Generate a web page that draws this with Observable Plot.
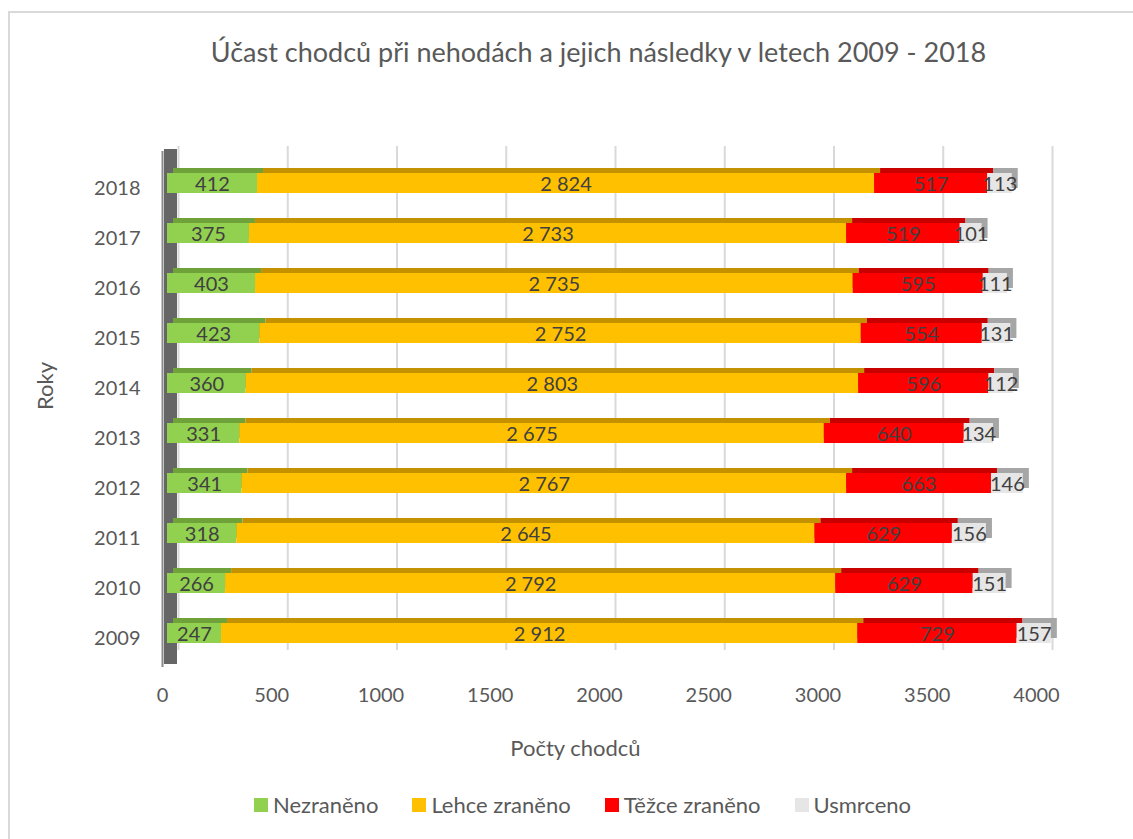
<!DOCTYPE html>
<html><head><meta charset="utf-8">
<script src="https://cdn.jsdelivr.net/npm/d3@7"></script>
<script src="https://cdn.jsdelivr.net/npm/@observablehq/plot@0.6"></script>
<style>
body{margin:0;background:#fff;font-family:Lato,"Open Sans",sans-serif;}
#wrap{position:relative;width:1133px;height:839px;overflow:hidden;background:#fff}
#border{position:absolute;left:8px;top:11px;width:1160px;height:870px;border:2px solid #d9d9d9;box-sizing:border-box}
#chart{position:absolute;left:0;top:0}
#title{position:absolute;left:32px;width:1133px;top:34px;text-align:center;font-size:27px;color:#595959;line-height:36px}
#legend{position:absolute;left:16px;width:1133px;top:791px;display:flex;justify-content:center;gap:34px;font-size:22px;color:#595959;line-height:28px}
#legend .it{display:flex;align-items:center;gap:5px}
#legend .sw{width:14px;height:14px;display:inline-block}
</style></head>
<body>
<div id="wrap">
<div id="border"></div>
<div id="chart"></div>
<div id="title">Účast chodců při nehodách a jejich následky v letech 2009 - 2018</div>
<div id="legend"></div>
</div>
<script>
const years = ["2018","2017","2016","2015","2014","2013","2012","2011","2010","2009"];
const categories = ["Nezraněno","Lehce zraněno","Těžce zraněno","Usmrceno"];
const nezraneno = [412,375,403,423,360,331,341,318,266,247];
const lehce = [2824,2733,2735,2752,2803,2675,2767,2645,2792,2912];
const tezce = [517,519,595,554,596,640,663,629,629,729];
const usmrceno = [113,101,111,131,112,134,146,156,151,157];
const colors = ["#92D050","#FFC000","#FF0000","#E6E6E6"];
const topColors = ["#6FA33A","#C49200","#C80000","#A6A6A6"];
const xTicks = [0,500,1000,1500,2000,2500,3000,3500,4000];

const series = [nezraneno, lehce, tezce, usmrceno];
const data = [];
categories.forEach((c, ci) => years.forEach((y, yi) => data.push({year: y, cat: c, ci, value: series[ci][yi]})));

const fmt = d3.formatLocale({decimal: ",", thousands: "\u00a0", grouping: [3], currency: ["", ""]}).format(",");

const plot = Plot.plot({
  width: 1133, height: 839,
  marginLeft: 167, marginRight: 92, marginTop: 141, marginBottom: 165,
  style: {fontFamily: "Lato, 'Open Sans', sans-serif", fontSize: "20px", color: "#595959", background: "transparent"},
  x: {domain: [0, 4000]},
  y: {domain: years, padding: 0.6},
  color: {type: "identity"},
  marks: [
    Plot.ruleX(xTicks, {stroke: "#d9d9d9", strokeWidth: 2, dx: 11, insetTop: 5, insetBottom: 24}),
    Plot.ruleX([0], {stroke: "#8a8a8a", strokeWidth: 2, dx: -5, insetTop: 10, insetBottom: 7}),
    Plot.ruleX([0], {stroke: "#666666", strokeWidth: 13, dx: 3, insetTop: 8, insetBottom: 10}),
    Plot.barX(data, Plot.stackX({x: "value", y: "year", fill: d => topColors[d.ci], dx: 6, dy: -5})),
    Plot.barX(data, Plot.stackX({x: "value", y: "year", fill: d => colors[d.ci]})),
    Plot.text(data, Plot.stackX({x: "value", y: "year", text: d => fmt(d.value), fill: "#404040", fontSize: 20, dy: 1})),
    Plot.axisY({tickSize: 0, tickPadding: 27, dy: 5, label: null, fontSize: 20}),
    Plot.axisX(xTicks, {tickSize: 0, tickPadding: 13, dx: -5, tickFormat: d => String(d), label: null, fontSize: 20}),
    Plot.text(["Roky"], {frameAnchor: "left", textAnchor: "middle", lineAnchor: "middle", rotate: -90, dx: -122, dy: -22, fill: "#595959", fontSize: 22}),
    Plot.text(["Počty chodců"], {frameAnchor: "bottom", textAnchor: "middle", lineAnchor: "middle", dx: -29, dy: 74, fill: "#595959", fontSize: 22})
  ]
});
document.getElementById("chart").appendChild(plot);

const legend = document.getElementById("legend");
categories.forEach((c, i) => {
  const it = document.createElement("div");
  it.className = "it";
  const sw = document.createElement("span");
  sw.className = "sw";
  sw.style.background = colors[i];
  const tx = document.createElement("span");
  tx.textContent = c;
  it.appendChild(sw); it.appendChild(tx);
  legend.appendChild(it);
});
</script>
</body></html>
